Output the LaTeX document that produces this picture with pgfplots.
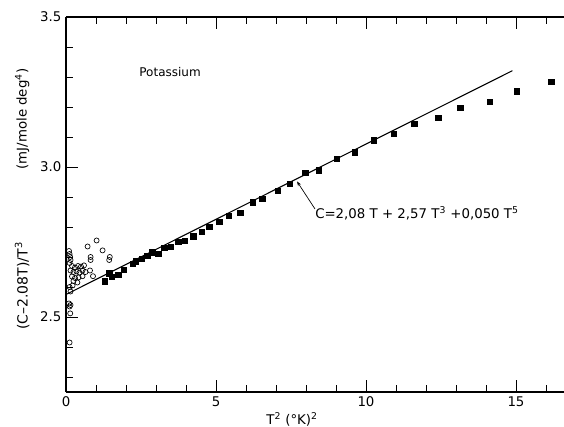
\documentclass[border=0pt]{standalone}
\usepackage{fontspec}
\setmainfont{DejaVu Sans}
\usepackage{pgfplots}
\pgfplotsset{compat=1.18}
\usetikzlibrary{calc,arrows.meta}
\begin{document}
\begin{tikzpicture}
\begin{axis}[name=ax, scale only axis, width=373.5pt, height=281.25pt,
  xmin=0, xmax=16.6, ymin=2.25, ymax=3.5,
  axis x line*=box, axis y line*=left,
  x axis line style={-}, y axis line style={-},
  axis line style={line width=0.8pt},
  xtick={0,5,10,15}, minor xtick={1,2,3,4,6,7,8,9,11,12,13,14,16},
  ytick={2.5,3.0,3.5}, minor ytick={2.3,2.4,2.6,2.7,2.8,2.9,3.1,3.2,3.3,3.4},
  tick align=inside, major tick length=9pt, minor tick length=5pt,
  tick style={line width=0.7pt, black},
  /pgf/number format/assume math mode=true,
  yticklabel style={/pgf/number format/fixed,/pgf/number format/precision=1,/pgf/number format/fixed zerofill},
  tick label style={font=\fontsize{10}{12}\selectfont},
  xlabel={T\textsuperscript{2}\ (°K)\textsuperscript{2}},
  xlabel style={at={(axis description cs:0.454,0)}, anchor=north, inner sep=0pt, yshift=-15.5pt, font=\fontsize{10}{12}\selectfont},
  ylabel={(C–2.08T)/T\textsuperscript{3}},
  ylabel style={at={(axis description cs:-0.088,0.283)}, anchor=center, inner sep=0pt, font=\fontsize{10.5}{12}\selectfont},
  clip=false,
]
% fitted line
\addplot[black, line width=0.8pt] coordinates {(0,2.575) (14.88,3.321)};
% open circles (low temperature)
\addplot[only marks, mark=o, mark size=1.9pt, mark options={line width=0.5pt, black}] coordinates {
(0.10,2.72) (0.12,2.71) (0.14,2.70) (0.15,2.69) (0.12,2.68)
(0.20,2.67) (0.30,2.665) (0.40,2.67) (0.50,2.668) (0.60,2.672)
(0.15,2.655) (0.25,2.65) (0.35,2.652) (0.45,2.648) (0.55,2.655) (0.65,2.65) (0.80,2.655)
(0.20,2.635) (0.30,2.63) (0.42,2.632) (0.55,2.636) (0.90,2.636)
(0.25,2.62) (0.38,2.615)
(0.12,2.60) (0.22,2.605) (0.15,2.585)
(0.72,2.735) (1.02,2.755) (1.22,2.722) (0.82,2.70) (0.82,2.69) (1.46,2.70) (1.44,2.69)
(0.10,2.545) (0.15,2.54) (0.12,2.535) (0.14,2.512) (0.12,2.415)
};
% filled squares
\addplot[only marks, mark=square*, mark size=2pt, mark options={black}] coordinates {
(1.30,2.619) (1.44,2.646) (1.52,2.635) (1.74,2.641) (1.93,2.657)
(2.22,2.677) (2.32,2.686) (2.52,2.694) (2.71,2.705) (2.88,2.716)
(3.08,2.710) (3.28,2.730) (3.49,2.735) (3.74,2.750) (3.97,2.755)
(4.24,2.769) (4.52,2.783) (4.78,2.800) (5.11,2.818) (5.42,2.837)
(5.81,2.848) (6.22,2.882) (6.54,2.895) (7.05,2.921) (7.47,2.943)
(7.98,2.980) (8.43,2.989) (9.03,3.027) (9.63,3.049) (10.25,3.089)
(10.92,3.110) (11.61,3.145) (12.41,3.164) (13.14,3.198) (14.13,3.217)
(15.03,3.252) (16.17,3.283)
};
\node[rotate=90, inner sep=0pt, font=\fontsize{10}{12}\selectfont] at (axis description cs:-0.088,0.728) {(mJ/mole\ deg\textsuperscript{4})};
\node[font=\fontsize{9}{11}\selectfont] at (axis cs:3.47,3.316) {Potassium};
\node[anchor=west, inner sep=0pt, font=\fontsize{10}{12}\selectfont] at (axis cs:8.30,2.845) {C=2,08 T + 2,57 T\textsuperscript{3} +0,050 T\textsuperscript{5}};
\draw[line width=0.5pt, -{Stealth[length=3.5pt,width=2.5pt]}] (axis cs:8.30,2.86) -- (axis cs:7.70,2.952);
\end{axis}
\pgfresetboundingbox
\path ($(ax.south west)+(-49.5pt,-26.25pt)$) rectangle ($(ax.north east)+(0pt,12.75pt)$);
\end{tikzpicture}
\end{document}
